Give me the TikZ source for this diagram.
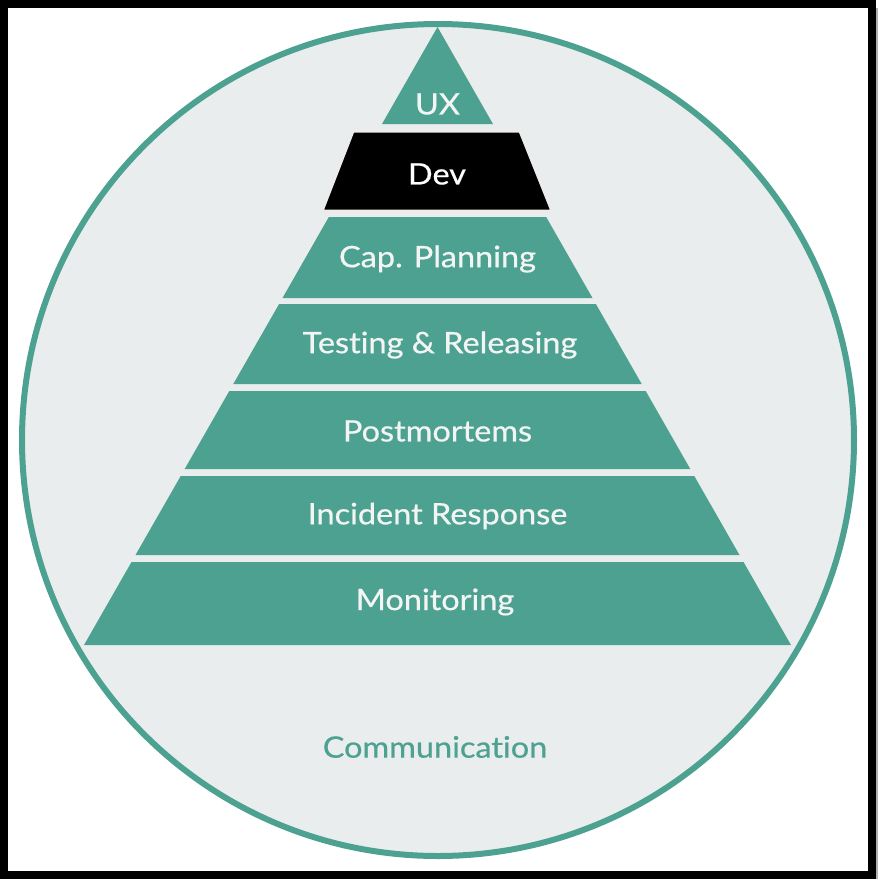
\documentclass[tikz,border=0pt]{standalone}
\usepackage{fontspec}
\setmainfont{Lato}[Ligatures=NoCommon, FakeStretch=1.1, FakeBold=0.6]
\usetikzlibrary{positioning}

\definecolor{sreteal}{HTML}{4DA191}
\definecolor{srebg}{HTML}{E9EDEE}
\definecolor{srelabel}{HTML}{F2F5F4}

\tikzset{
    layer/.style={fill=sreteal},
    lbl/.style={text=srelabel, font=\fontsize{29.5}{32}\selectfont},
}

\begin{document}
\begin{tikzpicture}[x=1pt, y=-1pt]
    \useasboundingbox (0,0) rectangle (879,879);

    % frame and circle
    \draw[gray!60, line width=2] (877,8) -- (877,879);
    \draw[line width=8] (4,4) rectangle (872,875);
    \draw[sreteal, fill=srebg, line width=6] (438,440) circle (416);

    % pyramid layers
    \fill[layer] (437.5,27) -- (493,124) -- (382,124) -- cycle;
    \fill[black, draw=white!85!gray, line width=3] (353,131) -- (520,131) -- (552,211) -- (322,211) -- cycle;
    \fill[layer] (328.8,217) -- (546.2,217) -- (592.5,298) -- (282.5,298) -- cycle;
    \fill[layer] (279.1,304) -- (595.9,304) -- (641.7,384) -- (233.3,384) -- cycle;
    \fill[layer] (229.3,391) -- (645.7,391) -- (690.3,469) -- (184.7,469) -- cycle;
    \fill[layer] (180.7,476) -- (694.3,476) -- (739.5,555) -- (135.5,555) -- cycle;
    \fill[layer] (131.5,562) -- (743.5,562) -- (791,645) -- (84,645) -- cycle;

    % labels
    \node[lbl] (ux) at (437.5,104) {UX};
    \node[lbl, text=white] (dev) at (437,174) {Dev};
    \node[lbl] (cap) at (437.5,259) {Cap. Planning};
    \node[lbl] (testing) at (440,345) {Testing \& Releasing};
    \node[lbl] (postmortems) at (437.5,431) {Postmortems};
    \node[lbl] (incident) at (437.5,516) {Incident Response};
    \node[lbl] (monitoring) at (435,602) {Monitoring};
    \node[lbl, text=sreteal] (comm) at (435,747) {Communication};
\end{tikzpicture}
\end{document}
